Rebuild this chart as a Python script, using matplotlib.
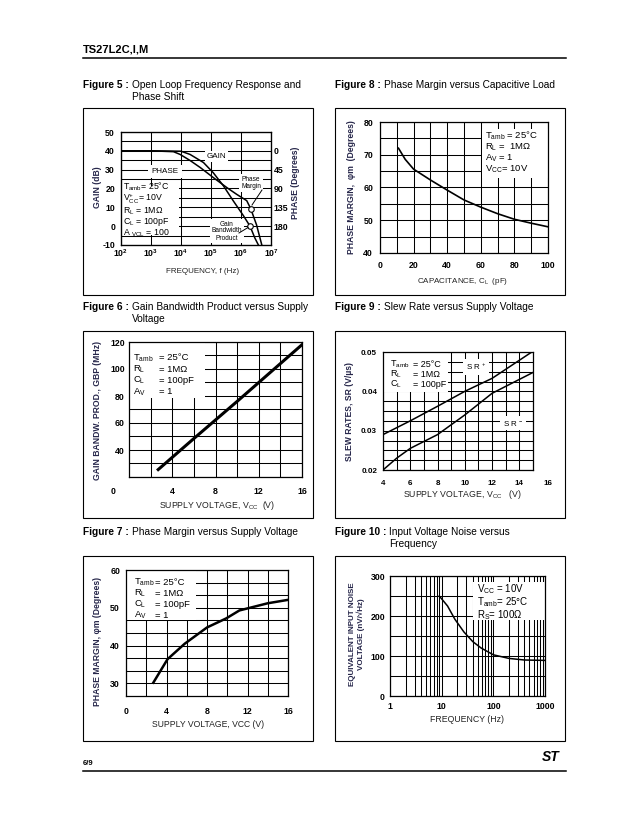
import numpy as np
import matplotlib.pyplot as plt
from matplotlib.patches import Rectangle
from matplotlib.lines import Line2D
from matplotlib.ticker import FixedLocator, LogLocator, NullFormatter

plt.rcParams['font.family'] = ['Liberation Sans', 'DejaVu Sans']
plt.rcParams['mathtext.fontset'] = 'custom'
plt.rcParams['mathtext.rm'] = 'Liberation Sans'
plt.rcParams['mathtext.it'] = 'Liberation Sans:italic'
plt.rcParams['mathtext.bf'] = 'Liberation Sans:bold'

W, H = 641, 830

# Figure 5 : open loop gain and phase
ol_freq = [1e2, 1e3, 1e4, 2e4, 5.6e4, 1.2e5, 2.6e5, 5.6e5, 1.2e6, 2e6, 2.9e6, 3.8e6]
ol_gain = [40, 40, 39.8, 38.1, 33.8, 28.3, 21.4, 13.3, 5.6, 0, -6.3, -10]
ph_freq = [1e2, 1e3, 5.6e3, 9.3e3, 2e4, 4.4e4, 1.2e5, 3.4e5, 7.2e5, 1.55e6, 2.1e6, 3.3e6, 4.9e6]
ph_deg = [0, 0, 2, 8.5, 23, 40, 64, 88, 104, 119, 138, 177, 224]
gbw_freq, gbw_gain = 2.0e6, 0
pm_freq, pm_deg = 2.1e6, 138

# Figure 6 : GBP vs supply
vcc_gbp = [2.7, 6, 10, 14, 16]
gbp = [25.5, 48.5, 76, 104, 118]

# Figure 7 : phase margin vs supply
vcc_pm = [2.7, 4.1, 5.8, 8, 9.9, 11.2, 14, 16]
pm_vcc = [30.2, 36.4, 40.5, 44.8, 47.2, 49.3, 51.2, 52.1]

# Figure 8 : phase margin vs capacitive load
cap_pf = [11, 15, 20, 30, 40, 50, 60, 70, 80, 90, 100]
pm_cap = [72, 68.6, 65.6, 62.3, 59.2, 56.2, 54, 52, 50.3, 49.1, 48]

# Figure 9 : slew rate vs supply
vcc_srp = [4, 6, 8, 10, 12, 15]
sr_plus = [0.029, 0.0325, 0.0362, 0.040, 0.0433, 0.0502]
vcc_srm = [4, 5, 6, 8, 10, 12, 15]
sr_minus = [0.020, 0.023, 0.0255, 0.029, 0.034, 0.0395, 0.0448]

# Figure 10 : input noise vs frequency
noise_f = [9, 13, 18, 27, 40, 58, 100, 200, 400, 1000]
noise_v = [250, 225, 192, 160, 136, 120, 103, 94, 90, 89]

fig = plt.figure(figsize=(W / 100, H / 100), dpi=100)
YL = '#26264a'


def ftext(px, py, s, **kw):
    return fig.text(px / W, 1 - py / H, s, **kw)


def fline(x0, x1, y, lw=1.0):
    fig.add_artist(Line2D([x0 / W, x1 / W], [1 - y / H] * 2, color='black', lw=lw))


def frame(l, t, r, b):
    fig.add_artist(Rectangle((l / W, 1 - b / H), (r - l) / W, (b - t) / H,
                             transform=fig.transFigure, fill=False, ec='black', lw=0.8))


def make_ax(bx, xpad, ypad):
    l, t, r, b = bx
    ax = fig.add_axes([l / W, 1 - b / H, (r - l) / W, (b - t) / H])
    ax.set_axisbelow(True)
    ax.tick_params(which='both', length=0)
    ax.tick_params(axis='x', pad=xpad)
    ax.tick_params(axis='y', pad=ypad)
    for s in ax.spines.values():
        s.set_linewidth(0.9)
    return ax


def grid(ax):
    ax.grid(True, which='both', color='black', lw=0.75)


def to_ax(bx, px, py):
    l, t, r, b = bx
    return (px - l) / (r - l), (b - py) / (b - t)


def ptext(ax, bx, px, py, s, **kw):
    x, y = to_ax(bx, px, py)
    kw.setdefault('va', 'center')
    return ax.text(x, y, s, transform=ax.transAxes, zorder=3, clip_on=False, **kw)


def prect(ax, bx, x0, y0, x1, y1):
    ax0, ay1 = to_ax(bx, x0, y0)
    ax1_, ay0 = to_ax(bx, x1, y1)
    ax.add_patch(Rectangle((ax0, ay0), ax1_ - ax0, ay1 - ay0, transform=ax.transAxes,
                           fc='white', ec='none', zorder=1.5, clip_on=False))


def ticks(ax, xt=None, xl=None, yt=None, yl=None, fs=6.3):
    if xt is not None:
        ax.set_xticks(xt, xl if xl is not None else [str(v) for v in xt], fontweight='bold', fontsize=fs)
    if yt is not None:
        ax.set_yticks(yt, yl if yl is not None else [str(v) for v in yt], fontweight='bold', fontsize=fs)


def ylab(px, py, s, fs=6.2):
    ftext(px, py, s, rotation=90, ha='center', va='center', fontsize=fs, fontweight='bold', color=YL)


def xlab(px, py, s, fs=6.3):
    ftext(px, py, s, ha='center', va='center', fontsize=fs, color='#222222')


renderer = fig.canvas.get_renderer()


def title(px, py, num, text, line2=None):
    t = ftext(px, py, f'Figure {num} :', fontsize=7.3, fontweight='bold', va='center')
    bb = t.get_window_extent(renderer)
    x2 = bb.x1 + 3
    fig.text(x2 / fig.bbox.width, 1 - py / H, text, fontsize=7.3, va='center')
    if line2:
        fig.text(x2 / fig.bbox.width, 1 - (py + 12) / H, line2, fontsize=7.3, va='center')


# page header / footer
ftext(83, 49.5, 'TS27L2C,I,M', fontsize=8, fontweight='bold', va='center')
fline(83, 566, 58, lw=1.1)
ftext(83, 763.5, '6/9', fontsize=5.5, fontweight='bold', va='center')
fline(83, 566, 771, lw=1.1)
ftext(551, 757, 'ST', fontsize=10, fontweight='heavy', style='italic', ha='center', va='center')

# frames
for l, r in [(83, 313), (335, 565)]:
    for t, b in [(108, 295), (331, 518), (556, 741)]:
        frame(l, t, r, b)

title(83, 85, 5, 'Open Loop Frequency Response and', 'Phase Shift')
title(335, 85, 8, 'Phase Margin versus Capacitive Load')
title(83, 307, 6, 'Gain Bandwidth Product versus Supply', 'Voltage')
title(335, 307, 9, 'Slew Rate versus Supply Voltage')
title(83, 532, 7, 'Phase Margin versus Supply Voltage')
title(335, 532, 10, 'Input Voltage Noise versus', 'Frequency')

# ---------- Figure 5 ----------
B5 = (121, 132, 271, 245)
ax = make_ax(B5, 2, 4.3)
ax.set_xscale('log')
ax.set_xlim(1e2, 1e7)
ax.set_ylim(-10, 50)
ticks(ax, [1e2, 1e3, 1e4, 1e5, 1e6, 1e7],
      [r'$\mathbf{10^{%d}}$' % e for e in range(2, 8)],
      list(range(-10, 51, 10)))
ax.xaxis.set_minor_locator(LogLocator(base=10, subs=np.arange(2, 10)))
ax.xaxis.set_minor_formatter(NullFormatter())
ax.yaxis.set_minor_locator(FixedLocator(np.arange(-5, 50, 10)))
grid(ax)
ax.plot(ol_freq, ol_gain, color='black', lw=1.1, zorder=4)
ax.plot(gbw_freq, gbw_gain, 'o', mfc='white', mec='black', ms=4, mew=0.8, zorder=6)
ax2 = ax.twinx()
ax2.set_ylim(225, -45)
ax2.tick_params(length=0, pad=2)
ticks(ax2, yt=[0, 45, 90, 135, 180])
ax2.plot(ph_freq, ph_deg, color='black', lw=1.1, zorder=4)
ax2.plot(pm_freq, pm_deg, 'o', mfc='white', mec='black', ms=4, mew=0.8, zorder=6)

prect(ax, B5, 121, 186, 179, 235)
p5 = '\n'.join([r'T$_{\rm amb}$= 25°C', r'V$_{\rm CC}^{+}$= 10V', r'R$_{\rm L}$ = 1MΩ',
                r'C$_{\rm L}$ = 100pF', r'A $_{\rm VCL}$ = 100'])
ptext(ax, B5, 123, 210, p5, fontsize=6.3, linespacing=0.88)
bw = dict(fc='white', ec='none', pad=1.2)
ptext(ax, B5, 216.5, 156.5, 'GAIN', fontsize=5.8, ha='center', bbox=bw)
ptext(ax, B5, 165, 171.5, 'PHASE', fontsize=5.8, ha='center', bbox=dict(fc='white', ec='none', pad=2.5))
ptext(ax, B5, 251, 183, 'Phase\nMargin', fontsize=4.7, ha='center', linespacing=1.0, bbox=bw)
ptext(ax, B5, 227, 231, 'Gain\nBandwidth\nProduct', fontsize=4.7, ha='center', linespacing=1.0, bbox=bw)
for (x0, y0), (x1, y1) in [((262, 190), (252, 205)), ((239, 233), (248, 227.5))]:
    a0 = to_ax(B5, x0, y0)
    a1 = to_ax(B5, x1, y1)
    ax2.plot([a0[0], a1[0]], [a0[1], a1[1]], transform=ax.transAxes, color='black', lw=0.7, zorder=5)
ylab(97, 187, 'GAIN (dB)')
ylab(296, 183, 'PHASE (Degrees)')
xlab(203, 271.5, 'FREQUENCY, f (Hz)', fs=5.8)

# ---------- Figure 8 ----------
B8 = (380, 122, 548, 253)
ax = make_ax(B8, 6, 5)
ax.set_xlim(0, 100)
ax.set_ylim(40, 80)
ticks(ax, list(range(0, 101, 20)), None, list(range(40, 81, 10)))
ax.xaxis.set_minor_locator(FixedLocator(np.arange(10, 100, 20)))
ax.yaxis.set_minor_locator(FixedLocator(np.arange(45, 80, 10)))
grid(ax)
ax.plot(cap_pf, pm_cap, color='black', lw=1.2, zorder=4)
prect(ax, B8, 482, 129, 548, 178)
p8 = '\n'.join([r'T$_{\rm amb}$ = 25°C', r'R$_{\rm L}$ =  1MΩ', r'A$_{\rm V}$ = 1',
                r'V$_{\rm CC}$= 10V'])
ptext(ax, B8, 485, 152.5, p8, fontsize=6.8, linespacing=0.88)
ylab(352, 187, 'PHASE MARGIN,  φm  (Degrees)')
xlab(463, 281.7, r'CAPACITANCE, C$_{\rm L}$  (pF)', fs=5.8)

# ---------- Figure 6 ----------
B6 = (129, 342, 302, 477)
ax = make_ax(B6, 7.5, 3)
ax.set_xlim(0, 16)
ax.set_ylim(20, 120)
ticks(ax, [4, 8, 12, 16], None, [40, 60, 80, 100, 120])
ax.xaxis.set_minor_locator(FixedLocator(np.arange(2, 16, 2)))
ax.yaxis.set_minor_locator(FixedLocator(np.arange(20, 120, 10)))
grid(ax)
ax.plot(vcc_gbp, gbp, color='black', lw=2.2, zorder=4)
ftext(113, 491, '0', fontsize=6.3, fontweight='bold', ha='center', va='center')
prect(ax, B6, 129, 342, 205, 398)
for i, (a, b) in enumerate([(r'T$_{\rm amb}$', '= 25°C'), (r'R$_{\rm L}$', '= 1MΩ'),
                            (r'C$_{\rm L}$', '= 100pF'), (r'A$_{\rm V}$', '= 1')]):
    ptext(ax, B6, 133, 358 + i * 11.3, a, fontsize=6.8)
    ptext(ax, B6, 159, 358 + i * 11.3, b, fontsize=6.8)
ylab(98, 410, 'GAIN BANDW. PROD., GBP (MHz)')
xlab(217, 505, r'SUPPLY VOLTAGE, V$_{\rm CC}$  (V)')

# ---------- Figure 9 ----------
B9 = (383, 352, 533, 470)
ax = make_ax(B9, 7.5, 4.3)
ax.set_xlim(4, 15)
ax.set_ylim(0.02, 0.05)
ticks(ax, [4, 6, 8, 10, 12, 14], None, [0.02, 0.03, 0.04, 0.05], fs=5.8)
ax.xaxis.set_minor_locator(FixedLocator(np.arange(5, 15, 1)))
ax.yaxis.set_minor_locator(FixedLocator(np.arange(0.0225, 0.05, 0.0025)))
grid(ax)
ax.plot(vcc_srp, sr_plus, color='black', lw=1.1, zorder=4)
ax.plot(vcc_srm, sr_minus, color='black', lw=1.1, zorder=4)
ftext(547.5, 483.5, '16', fontsize=5.8, fontweight='bold', ha='center', va='center')
prect(ax, B9, 383, 352, 448, 392)
for i, (a, b) in enumerate([(r'T$_{\rm amb}$', '= 25°C'), (r'R$_{\rm L}$', '= 1MΩ'),
                            (r'C$_{\rm L}$', '= 100pF')]):
    ptext(ax, B9, 390, 364 + i * 10.3, a, fontsize=6.5)
    ptext(ax, B9, 413, 364 + i * 10.3, b, fontsize=6.5)
ptext(ax, B9, 476, 367, r'S R$^{\,+}$', fontsize=5.8, ha='center', bbox=dict(fc='white', ec='none', pad=2))
ptext(ax, B9, 513, 423, r'S R$^{\,-}$', fontsize=5.8, ha='center', bbox=dict(fc='white', ec='none', pad=2))
ylab(349, 412, 'SLEW RATES, SR (V/µs)')
xlab(462, 494, r'SUPPLY VOLTAGE, V$_{\rm CC}$   (V)')

# ---------- Figure 7 ----------
B7 = (126, 570, 288, 696)
ax = make_ax(B7, 8, 4.3)
ax.set_xlim(0, 16)
ax.set_ylim(60 - 10 / 3 * 10, 60)
ticks(ax, [0, 4, 8, 12, 16], None, [30, 40, 50, 60])
ax.xaxis.set_minor_locator(FixedLocator(np.arange(2, 16, 2)))
ax.yaxis.set_minor_locator(FixedLocator(60 - 10 / 3 * np.arange(1, 10)))
grid(ax)
ax.plot(vcc_pm, pm_vcc, color='black', lw=1.8, zorder=4)
prect(ax, B7, 126, 570, 196, 620)
for i, (a, b) in enumerate([(r'T$_{\rm amb}$', '= 25°C'), (r'R$_{\rm L}$', '= 1MΩ'),
                            (r'C$_{\rm L}$', '= 100pF'), (r'A$_{\rm V}$', '= 1')]):
    ptext(ax, B7, 134, 582.7 + i * 10.8, a, fontsize=6.8)
    ptext(ax, B7, 155, 582.7 + i * 10.8, b, fontsize=6.8)
ylab(98, 641, 'PHASE MARGIN, φm (Degrees)')
xlab(208, 724, 'SUPPLY VOLTAGE, VCC (V)', fs=6.2)

# ---------- Figure 10 ----------
B10 = (390, 576, 545, 696)
ax = make_ax(B10, 4.5, 3.6)
ax.set_xscale('log')
ax.set_xlim(1, 1000)
ax.set_ylim(0, 300)
ticks(ax, [1, 10, 100, 1000], ['1', '10', '100', '1000'], [0, 100, 200, 300])
ax.xaxis.set_minor_locator(LogLocator(base=10, subs=np.arange(2, 10)))
ax.xaxis.set_minor_formatter(NullFormatter())
ax.yaxis.set_minor_locator(FixedLocator([50, 150, 250]))
grid(ax)
ax.plot(noise_f, noise_v, color='black', lw=1.1, zorder=4)
prect(ax, B10, 473, 582, 545, 620)
p10 = '\n'.join([r'V$_{\rm CC}$ = 10V', r'T$_{\rm amb}$= 25°C', r'R$_{\rm S}$= 100Ω'])
ptext(ax, B10, 477, 602, p10, fontsize=7, linespacing=0.95)
ylab(352, 634, 'EQUIVALENT INPUT NOISE', fs=5.8)
ylab(361, 634, 'VOLTAGE (nV/√Hz)', fs=5.8)
xlab(467, 719, 'FREQUENCY (Hz)')

fig.savefig('out.png', dpi=100)
